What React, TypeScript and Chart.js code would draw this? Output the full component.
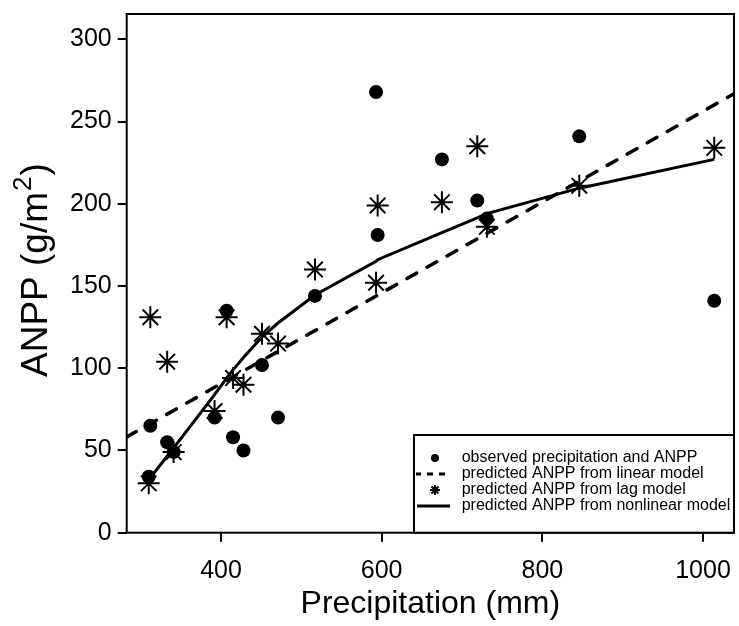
import React, { useEffect, useRef } from 'react';
import { Chart, registerables } from 'chart.js';

Chart.register(...registerables);

// Precipitation (mm) for each year, sorted
const precipitation = [310, 312, 333, 341, 392, 407, 415, 428, 451, 471, 517, 593, 595, 675, 719, 731, 846, 1014];
// Observed ANPP (g/m2)
const observedANPP = [34, 65, 55, 49, 70, 135, 58, 50, 102, 70, 144, 268, 181, 227, 202, 191, 241, 141];
// Predicted ANPP from lag model
const lagModelANPP = [30, 131, 104, 49, 74, 131, 94, 90, 121, 115, 160, 152, 199, 201, 235, 186, 211, 234];
// Predicted ANPP from nonlinear model
const nonlinearModelANPP = [32, 33.5, 46.5, 51.5, 84, 94, 99, 106.5, 119, 127.5, 144.5, 165, 166, 182.5, 191.5, 194, 209.5, 227];
// Linear model line (end points at axis limits)
const linearModelX = [282.6, 1038.6];
const linearModelY = [58.2, 266.9];

const xTicks = [400, 600, 800, 1000];
const yTicks = [0, 50, 100, 150, 200, 250, 300];

const xTitle = 'Precipitation (mm)';
const yTitleMain = 'ANPP (g/m';
const yTitleSup = '2';
const yTitleEnd = ')';

const legendLabels = [
  'observed precipitation and ANPP',
  'predicted ANPP from linear model',
  'predicted ANPP from lag model',
  'predicted ANPP from nonlinear model',
];

const FONT = '"Liberation Sans", Arial, Helvetica, sans-serif';

const overlayPlugin = {
  id: 'overlay',
  afterDraw(chart: any) {
    const { ctx, chartArea: a } = chart;
    ctx.save();
    ctx.strokeStyle = '#000';
    ctx.fillStyle = '#000';
    ctx.lineWidth = 2;
    ctx.strokeRect(a.left, a.top, a.right - a.left, a.bottom - a.top);

    // Y axis title with superscript
    ctx.save();
    ctx.translate(46.7, 377);
    ctx.rotate(-Math.PI / 2);
    ctx.textBaseline = 'alphabetic';
    ctx.textAlign = 'left';
    ctx.font = `37px ${FONT}`;
    ctx.fillText(yTitleMain, 0, 0);
    const w1 = ctx.measureText(yTitleMain).width;
    ctx.font = `26px ${FONT}`;
    ctx.fillText(yTitleSup, w1 + 1, -16);
    const w2 = ctx.measureText(yTitleSup).width;
    ctx.font = `37px ${FONT}`;
    ctx.fillText(yTitleEnd, w1 + w2 + 2, 0);
    ctx.restore();

    // Legend
    const lx = 414, ly = 435, lw = a.right - 414, lh = a.bottom - 435;
    ctx.fillStyle = '#fff';
    ctx.fillRect(lx, ly, lw, lh);
    ctx.strokeStyle = '#000';
    ctx.lineWidth = 2;
    ctx.strokeRect(lx, ly, lw, lh);
    ctx.fillStyle = '#000';
    const rows = [458, 474, 490, 506];
    const sx = 435;
    // circle
    ctx.beginPath();
    ctx.arc(sx, rows[0], 4, 0, Math.PI * 2);
    ctx.fill();
    // dashes
    ctx.lineWidth = 3;
    ctx.lineCap = 'butt';
    [[416, 421], [427, 433], [439, 445]].forEach(([x0, x1]) => {
      ctx.beginPath();
      ctx.moveTo(x0, rows[1]);
      ctx.lineTo(x1, rows[1]);
      ctx.stroke();
    });
    // asterisk
    ctx.lineWidth = 2;
    const r = 5;
    for (let k = 0; k < 4; k++) {
      const ang = (k * Math.PI) / 4;
      ctx.beginPath();
      ctx.moveTo(sx - Math.cos(ang) * r, rows[2] - Math.sin(ang) * r);
      ctx.lineTo(sx + Math.cos(ang) * r, rows[2] + Math.sin(ang) * r);
      ctx.stroke();
    }
    // solid line
    ctx.lineWidth = 3;
    ctx.beginPath();
    ctx.moveTo(417, rows[3]);
    ctx.lineTo(450, rows[3]);
    ctx.stroke();
    // text
    ctx.font = `16px ${FONT}`;
    ctx.textBaseline = 'middle';
    ctx.textAlign = 'left';
    legendLabels.forEach((t, i) => ctx.fillText(t, 461.7, rows[i]));
    ctx.restore();
  },
};

const zeroPadding = (scale: any) => {
  scale.paddingLeft = 0;
  scale.paddingRight = 0;
  scale.paddingTop = 0;
  scale.paddingBottom = 0;
};

export default function App() {
  const ref = useRef<HTMLCanvasElement | null>(null);

  useEffect(() => {
    if (!ref.current) return;
    const chart = new Chart(ref.current, {
      type: 'scatter',
      data: {
        datasets: [
          {
            label: legendLabels[0],
            data: precipitation.map((x, i) => ({ x, y: observedANPP[i] })),
            pointStyle: 'circle',
            pointRadius: 7,
            backgroundColor: '#000',
            borderColor: '#000',
            borderWidth: 0,
            showLine: false,
          },
          {
            label: legendLabels[2],
            data: precipitation.map((x, i) => ({ x, y: lagModelANPP[i] })),
            pointStyle: 'star',
            pointRadius: 11,
            backgroundColor: '#000',
            borderColor: '#000',
            borderWidth: 2,
            showLine: false,
          },
          {
            label: legendLabels[3],
            data: precipitation.map((x, i) => ({ x, y: nonlinearModelANPP[i] })),
            showLine: true,
            pointRadius: 0,
            borderColor: '#000',
            borderWidth: 3,
            tension: 0,
          },
          {
            label: legendLabels[1],
            data: linearModelX.map((x, i) => ({ x, y: linearModelY[i] })),
            showLine: true,
            pointRadius: 0,
            borderColor: '#000',
            borderWidth: 3.5,
            borderDash: [11, 12],
            borderCapStyle: 'round',
          },
        ],
      },
      options: {
        animation: false,
        responsive: false,
        devicePixelRatio: 1,
        layout: { autoPadding: false, padding: { top: 14, right: 5, left: 0, bottom: 0 } },
        plugins: {
          legend: { display: false },
          tooltip: { enabled: false },
        },
        scales: {
          x: {
            type: 'linear',
            min: 282.6,
            max: 1038.6,
            afterBuildTicks: (scale: any) => {
              scale.ticks = xTicks.map((v) => ({ value: v }));
            },
            afterFit: (scale: any) => {
              scale.height = 93.3;
              zeroPadding(scale);
            },
            ticks: {
              color: '#000',
              font: { family: FONT, size: 25 },
              padding: 14,
              maxRotation: 0,
              callback: (v: any) => String(v),
            },
            grid: {
              display: true,
              drawOnChartArea: false,
              drawTicks: true,
              tickLength: 9,
              color: '#000',
              lineWidth: 2,
            },
            border: { display: false },
            title: {
              display: true,
              text: xTitle,
              color: '#000',
              font: { family: FONT, size: 32 },
              padding: { top: 0, bottom: 3 },
            },
          },
          y: {
            type: 'linear',
            min: 0,
            max: 315.4,
            afterBuildTicks: (scale: any) => {
              scale.ticks = yTicks.map((v) => ({ value: v }));
            },
            afterFit: (scale: any) => {
              scale.width = 126.7;
              zeroPadding(scale);
            },
            ticks: {
              color: '#000',
              font: { family: FONT, size: 25 },
              padding: 6,
              callback: (v: any) => String(v),
            },
            grid: {
              display: true,
              drawOnChartArea: false,
              drawTicks: true,
              tickLength: 9,
              color: '#000',
              lineWidth: 2,
            },
            border: { display: false },
          },
        },
      },
      plugins: [overlayPlugin],
    });
    return () => chart.destroy();
  }, []);

  return (
    <canvas
      ref={ref}
      width={739}
      height={626}
      style={{ position: 'absolute', left: 0, top: 0, width: 739, height: 626 }}
    />
  );
}
